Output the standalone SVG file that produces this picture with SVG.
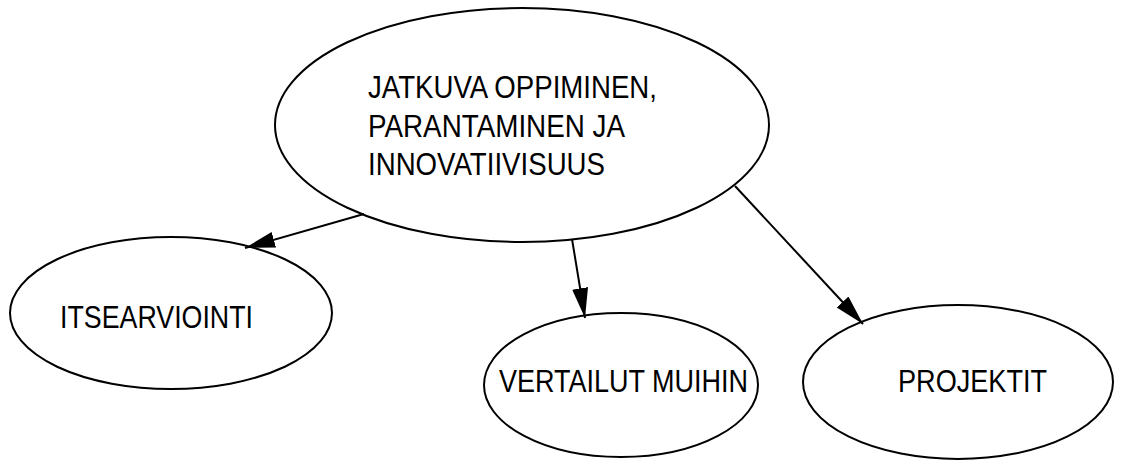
<svg xmlns="http://www.w3.org/2000/svg" width="1130" height="461" viewBox="0 0 1130 461">
  <style>
    .node { fill: #ffffff; stroke: #000000; stroke-width: 2; }
    .label { font-family: "Liberation Sans", Arial, sans-serif; font-size: 31px; fill: #000000; }
    .edge { stroke: #000000; stroke-width: 2; fill: none; marker-end: url(#arrow); }
  </style>
  <defs>
    <marker id="arrow" markerUnits="userSpaceOnUse" markerWidth="32" markerHeight="18" refX="30" refY="8" orient="auto">
      <polygon points="0,0 30,8 0,16" fill="#000000"/>
    </marker>
  </defs>
  <rect width="1130" height="461" fill="#ffffff"/>

  <g id="node-jatkuva">
    <ellipse class="node" cx="522" cy="125" rx="247" ry="117"/>
    <text class="label" x="368" y="98" textLength="289" lengthAdjust="spacingAndGlyphs">JATKUVA OPPIMINEN,</text>
    <text class="label" x="368" y="137" textLength="257" lengthAdjust="spacingAndGlyphs">PARANTAMINEN JA</text>
    <text class="label" x="368" y="175" textLength="237" lengthAdjust="spacingAndGlyphs">INNOVATIIVISUUS</text>
  </g>

  <g id="node-itsearviointi">
    <ellipse class="node" cx="171" cy="313" rx="161" ry="76"/>
    <text class="label" x="60" y="328" textLength="193" lengthAdjust="spacingAndGlyphs">ITSEARVIOINTI</text>
  </g>

  <g id="node-vertailut">
    <ellipse class="node" cx="621" cy="385" rx="137" ry="72"/>
    <text class="label" x="499" y="392" textLength="249" lengthAdjust="spacingAndGlyphs">VERTAILUT MUIHIN</text>
  </g>

  <g id="node-projektit">
    <ellipse class="node" cx="958" cy="382" rx="155" ry="77"/>
    <text class="label" x="898" y="392" textLength="149" lengthAdjust="spacingAndGlyphs">PROJEKTIT</text>
  </g>

  <g id="connectors">
    <line class="edge" x1="364" y1="214" x2="245" y2="248"/>
    <line class="edge" x1="572" y1="239" x2="585" y2="318"/>
    <line class="edge" x1="735" y1="186" x2="863" y2="324"/>
  </g>
</svg>
